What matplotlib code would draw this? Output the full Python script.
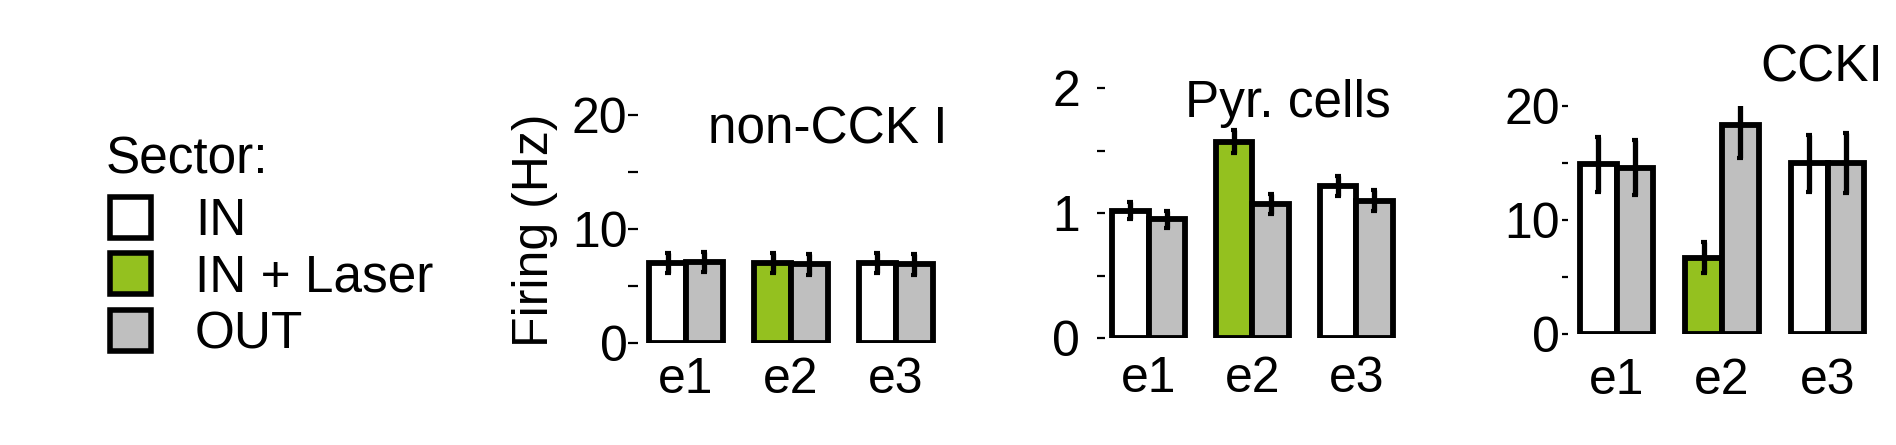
import matplotlib
matplotlib.use('Agg')
import matplotlib.pyplot as plt
from matplotlib.patches import Patch
import numpy as np

plt.rcParams['font.family'] = ['Liberation Sans', 'DejaVu Sans']

W, H = 1896, 445

groups = ['e1', 'e2', 'e3']
legend_title = 'Sector:'
legend_labels = ['IN', 'IN + Laser', 'OUT']

# non-CCK interneurons (Hz)
noncck_in = [7.0, 7.0, 7.0]
noncck_out = [7.1, 6.9, 6.9]
noncck_in_err = [0.9, 0.9, 0.9]
noncck_out_err = [0.9, 0.9, 0.9]

# pyramidal cells (Hz)
pyr_in = [1.02, 1.57, 1.22]
pyr_out = [0.95, 1.07, 1.10]
pyr_in_err = [0.07, 0.09, 0.08]
pyr_out_err = [0.07, 0.08, 0.08]

# CCK interneurons (Hz)
cck_in = [14.9, 6.7, 15.0]
cck_out = [14.6, 18.3, 15.0]
cck_in_err = [2.4, 1.35, 2.5]
cck_out_err = [2.4, 2.85, 2.6]

green = '#94c11f'
gray = '#bfbfbf'
in_colors = ['white', green, 'white']

FS = 36


def px_rect(left, right, top, bottom):
    return [left / W, 1 - bottom / H, (right - left) / W, (bottom - top) / H]


def px(x, y):
    return (x / W, 1 - y / H)


def bar_panel(fig, rect, vin, vout, ein, eout, ylim, major, minor, xlim,
              ticklen=7, ypad=1.5, xpad=7):
    ax = fig.add_axes(rect)
    x = np.arange(len(groups))
    w = 0.35
    ax.bar(x - w / 2, vin, w, color=in_colors, edgecolor='black', linewidth=4.2, zorder=2)
    ax.bar(x + w / 2, vout, w, color=gray, edgecolor='black', linewidth=4.2, zorder=2)
    ax.errorbar(x - w / 2, vin, yerr=ein, fmt='none', ecolor='black',
                elinewidth=3.8, capsize=2.5, capthick=3, zorder=3)
    ax.errorbar(x + w / 2, vout, yerr=eout, fmt='none', ecolor='black',
                elinewidth=3.8, capsize=2.5, capthick=3, zorder=3)
    ax.set_xlim(*xlim)
    ax.set_ylim(*ylim)
    for s in ax.spines.values():
        s.set_visible(False)
    ax.set_xticks(x)
    ax.set_xticklabels(groups)
    ax.set_yticks(major)
    ax.set_yticks(minor, minor=True)
    ax.tick_params(axis='x', length=0, pad=xpad, labelsize=FS)
    ax.tick_params(axis='y', which='both', length=ticklen, width=1.6,
                   pad=ypad, labelsize=FS)
    ax.patch.set_alpha(0)
    return ax


fig = plt.figure(figsize=(W / 100, H / 100), dpi=100)

ax1 = bar_panel(fig, px_rect(638, 943, 115, 343), noncck_in, noncck_out,
                noncck_in_err, noncck_out_err, (0, 20), [0, 10, 20], [5, 15],
                (-0.457, 2.45), ticklen=7, ypad=0.5, xpad=10)
ax2 = bar_panel(fig, px_rect(1105, 1403, 88, 338), pyr_in, pyr_out,
                pyr_in_err, pyr_out_err, (0, 2), [0, 1, 2], [0.5, 1.5],
                (-0.42, 2.45), ticklen=6, ypad=12, xpad=13)
ax3 = bar_panel(fig, px_rect(1568, 1875, 106, 334), cck_in, cck_out,
                cck_in_err, cck_out_err, (0, 20), [0, 10, 20], [5, 15],
                (-0.46, 2.45), ticklen=4.5, ypad=1.5, xpad=17)

fig.text(*px(828, 143), 'non-CCK I', fontsize=37, ha='center', va='baseline')
fig.text(*px(1288, 117), 'Pyr. cells', fontsize=37, ha='center', va='baseline')
fig.text(*px(1822, 82), 'CCKI', fontsize=37, ha='center', va='baseline')
fig.text(*px(535, 230), 'Firing (Hz)', fontsize=36, rotation=90,
         ha='center', va='center')

fig.text(*px(106, 174), legend_title, fontsize=37, ha='left', va='baseline')
handles = [Patch(facecolor=c, edgecolor='black', linewidth=4)
           for c in ['white', green, gray]]
fig.legend(handles, legend_labels, loc='upper left',
           bbox_to_anchor=px(110, 197), frameon=False, fontsize=37,
           borderpad=0, borderaxespad=0,
           handlelength=0.8, handleheight=0.85, handletextpad=0.85,
           labelspacing=0.14)

fig.savefig('out.png', dpi=100)
